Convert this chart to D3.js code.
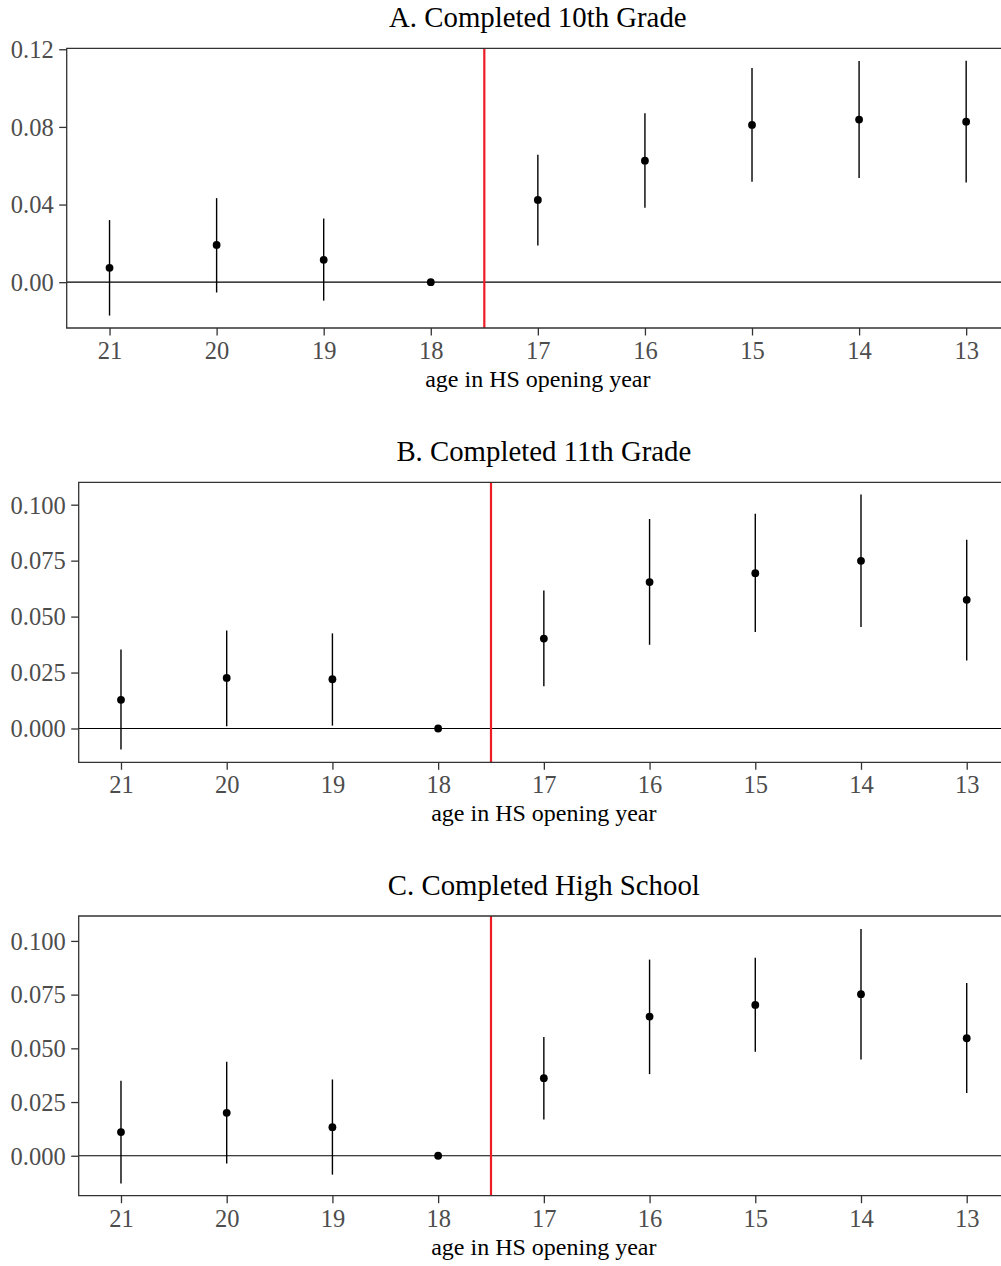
<!DOCTYPE html>
<html>
<head>
<meta charset="utf-8">
<script src="https://cdn.jsdelivr.net/npm/d3@7"></script>
<style>
  html, body { margin: 0; padding: 0; background: #ffffff; }
  svg { display: block; }
  text { font-family: "Liberation Serif", "Times New Roman", serif; }
</style>
</head>
<body>
<svg id="chart" width="1001" height="1266"></svg>
<script>
// Event-study estimates by age in the year the high school opened (18 is the reference cohort)
const ages = [21, 20, 19, 18, 17, 16, 15, 14, 13];

const estA = [0.0074, 0.0192, 0.0115, 0.0, 0.0424, 0.0626, 0.0810, 0.0838, 0.0827];
const loA  = [-0.0172, -0.0053, -0.0095, 0.0, 0.0189, 0.0384, 0.0518, 0.0537, 0.0513];
const hiA  = [0.0320, 0.0433, 0.0328, 0.0, 0.0657, 0.0870, 0.1104, 0.1140, 0.1141];

const estB = [0.0128, 0.0226, 0.0220, 0.0, 0.0402, 0.0654, 0.0694, 0.0749, 0.0575];
const loB  = [-0.0094, 0.0010, 0.0013, 0.0, 0.0189, 0.0374, 0.0431, 0.0454, 0.0304];
const hiB  = [0.0353, 0.0438, 0.0425, 0.0, 0.0617, 0.0936, 0.0960, 0.1045, 0.0843];

const estC = [0.0110, 0.0200, 0.0133, 0.0, 0.0361, 0.0648, 0.0702, 0.0752, 0.0547];
const loC  = [-0.0129, -0.0036, -0.0088, 0.0, 0.0169, 0.0380, 0.0484, 0.0448, 0.0292];
const hiC  = [0.0349, 0.0437, 0.0355, 0.0, 0.0553, 0.0913, 0.0922, 0.1056, 0.0804];

const titles = ["A. Completed 10th Grade", "B. Completed 11th Grade", "C. Completed High School"];
const yTicksA = [0, 0.04, 0.08, 0.12];
const yTicksBC = [0, 0.025, 0.05, 0.075, 0.1];
const xLabel = "age in HS opening year";
const cutoff = 17.5;

const panels = [
  { title: titles[0], est: estA, lo: loA, hi: hiA, ticks: yTicksA, fmt: d3.format(".2f"),
    left: 66.7, top: 48.3, bottom: 328, yDomain: [-0.0236, 0.1205] },
  { title: titles[1], est: estB, lo: loB, hi: hiB, ticks: yTicksBC, fmt: d3.format(".3f"),
    left: 78.7, top: 482.3, bottom: 762.3, yDomain: [-0.0151, 0.1100] },
  { title: titles[2], est: estC, lo: loC, hi: hiC, ticks: yTicksBC, fmt: d3.format(".3f"),
    left: 78.7, top: 916, bottom: 1195.7, yDomain: [-0.0186, 0.1116] }
];

const svg = d3.select("#chart");
const panelRight = 1009;

panels.forEach(p => {
  const x = d3.scaleLinear().domain([21.4, 12.6]).range([p.left, panelRight]);
  const y = d3.scaleLinear().domain(p.yDomain).range([p.bottom, p.top]);
  const g = svg.append("g");

  // title
  g.append("text")
    .attr("x", (p.left + panelRight) / 2)
    .attr("y", p.top - 21)
    .attr("text-anchor", "middle")
    .attr("font-size", 28.8)
    .attr("fill", "#000")
    .text(p.title);

  // zero reference line
  g.append("line")
    .attr("x1", p.left).attr("x2", panelRight)
    .attr("y1", y(0)).attr("y2", y(0))
    .attr("stroke", "#000").attr("stroke-width", 1.2);

  // treatment cutoff
  g.append("line")
    .attr("x1", x(cutoff)).attr("x2", x(cutoff))
    .attr("y1", p.top).attr("y2", p.bottom)
    .attr("stroke", "#ee1c25").attr("stroke-width", 2.2);

  // confidence intervals
  g.selectAll("line.ci").data(ages.map((a, i) => ({ a, lo: p.lo[i], hi: p.hi[i] })))
    .join("line").attr("class", "ci")
    .attr("x1", d => x(d.a)).attr("x2", d => x(d.a))
    .attr("y1", d => y(d.lo)).attr("y2", d => y(d.hi))
    .attr("stroke", "#000").attr("stroke-width", 1.4);

  // point estimates
  g.selectAll("circle.pt").data(ages.map((a, i) => ({ a, v: p.est[i] })))
    .join("circle").attr("class", "pt")
    .attr("cx", d => x(d.a)).attr("cy", d => y(d.v))
    .attr("r", 3.9).attr("fill", "#000");

  // panel border (left, top, bottom)
  g.append("path")
    .attr("d", `M${panelRight},${p.top}H${p.left}V${p.bottom}H${panelRight}`)
    .attr("fill", "none").attr("stroke", "#333").attr("stroke-width", 1.3);

  // y axis
  const yAxis = g.append("g")
    .attr("transform", `translate(${p.left},0)`)
    .call(d3.axisLeft(y).tickValues(p.ticks).tickFormat(p.fmt).tickSize(7.5).tickPadding(5.5));
  yAxis.select(".domain").remove();
  yAxis.selectAll(".tick line").attr("stroke", "#333").attr("stroke-width", 1.3);
  yAxis.selectAll(".tick text").attr("font-size", 24.5).attr("fill", "#4d4d4d")
    .attr("font-family", "Liberation Serif, serif").attr("dy", "0.34em");

  // x axis
  const xAxis = g.append("g")
    .attr("transform", `translate(0,${p.bottom})`)
    .call(d3.axisBottom(x).tickValues(ages).tickFormat(d3.format("d")).tickSize(7.5).tickPadding(6));
  xAxis.select(".domain").remove();
  xAxis.selectAll(".tick line").attr("stroke", "#333").attr("stroke-width", 1.3);
  xAxis.selectAll(".tick text").attr("font-size", 24.5).attr("fill", "#4d4d4d")
    .attr("font-family", "Liberation Serif, serif").attr("dy", "0.71em");

  // x axis title
  g.append("text")
    .attr("x", (p.left + panelRight) / 2)
    .attr("y", p.bottom + 59)
    .attr("text-anchor", "middle")
    .attr("font-size", 24)
    .attr("fill", "#000")
    .text(xLabel);
});
</script>
</body>
</html>
